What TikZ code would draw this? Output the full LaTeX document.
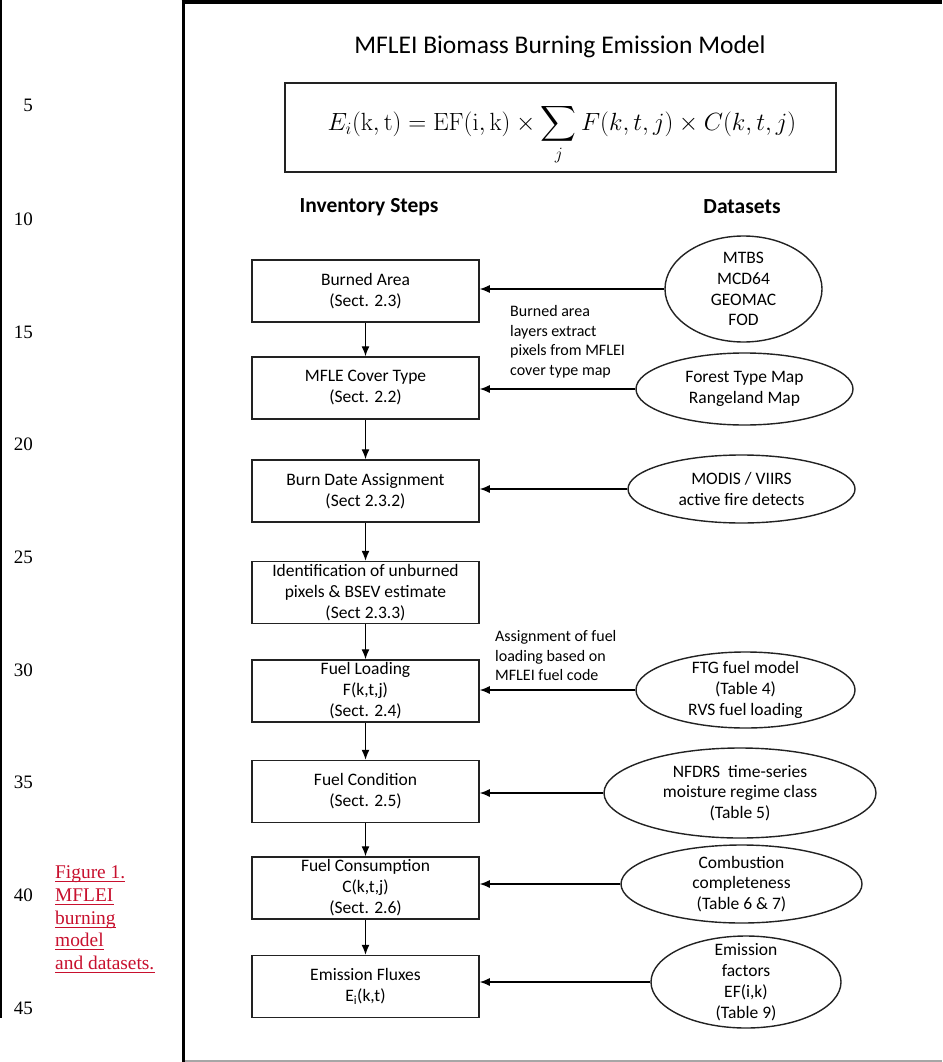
\documentclass[tikz,border=0pt]{standalone}
\usepackage{exscale}
\usepackage[no-math]{fontspec}
\setmainfont{Carlito}
\newfontfamily\tnr{Liberation Serif}
\usetikzlibrary{arrows.meta,shapes.geometric}
\definecolor{capred}{HTML}{C8102E}
\definecolor{boxline}{HTML}{222222}
\begin{document}
\begin{tikzpicture}[x=1pt,y=-1pt,
  stepbox/.style={draw=boxline,line width=1.5pt,minimum width=227pt,minimum height=62pt,inner sep=0pt,align=center,font=\fontsize{17.5}{21}\selectfont},
  dataell/.style={ellipse,draw=boxline,line width=1.4pt,inner sep=0pt},
  elltext/.style={align=center,inner sep=0pt,font=\fontsize{17.5}{20.8}\selectfont},
  arr/.style={-{Latex[length=10pt,width=8pt]},line width=1.3pt},
  lnum/.style={font=\tnr\fontsize{19}{22}\selectfont,anchor=base east,inner sep=0pt},
  capline/.style={font=\tnr\fontsize{19.4}{22.7}\selectfont,text=capred,anchor=base west,inner sep=0pt},
  note/.style={align=left,anchor=west,inner sep=0pt,font=\fontsize{16}{19.5}\selectfont},
  head/.style={inner sep=0pt,font=\bfseries\fontsize{21.5}{26}\selectfont}]
\useasboundingbox (0,0) rectangle (942,1062);
\fill[white] (0,0) rectangle (942,1062);

% page frame lines
\draw[line width=1.5pt] (1,0) -- (1,1018);
\draw[line width=3pt] (183,0) -- (183,1062);
\draw[line width=4pt] (181.5,2) -- (942,2);
\draw[black!35,line width=2pt] (184.5,1061) -- (942,1061);

% line numbers
\foreach \n/\yy in {5/112,10/225,15/338,20/450,25/563,30/676,35/788,40/901,45/1014}
  \node[lnum] (ln\n) at (33,\yy) {\n};

% caption
\node[capline] (cap1) at (55,878) {Figure 1.};
\node[capline] (cap2) at (55,901) {MFLEI};
\node[capline] (cap3) at (55,924) {burning};
\node[capline] (cap4) at (55,946) {model};
\node[capline] (cap5) at (55,969) {and datasets.};
\foreach \c in {cap1,cap2,cap3,cap4,cap5}
  \draw[capred,line width=1pt] ([yshift=-3pt]\c.base west) -- ([yshift=-3pt]\c.base east);

% title and equation
\node[inner sep=0pt,font=\fontsize{25.5}{30}\selectfont] (title) at (560,47) {MFLEI Biomass Burning Emission Model};
\node[draw=boxline,line width=1.5pt,minimum width=551pt,minimum height=89pt,inner sep=0pt] (eqbox) at (560.5,127.5) {};
\node[inner sep=0pt,font=\fontsize{23}{28}\selectfont] (eq) at (562,135) {$\displaystyle E_i(\mathrm{k,t}) = \mathrm{EF(i,k)}\times\sum_j F(k,t,j)\times C(k,t,j)$};

% headers
\node[head] (hsteps) at (369,207) {Inventory Steps};
\node[head] (hdata) at (742,207) {Datasets};

% step boxes
\node[stepbox] (b1) at (365.5,291) {Burned Area\\(Sect. 2.3)};
\node[stepbox] (b2) at (365.5,388) {MFLE Cover Type\\(Sect. 2.2)};
\node[stepbox] (b3) at (365.5,491) {Burn Date Assignment\\(Sect 2.3.2)};
\node[stepbox] (b4) at (365.5,592.5) {Identification of unburned\\pixels \& BSEV estimate\\(Sect 2.3.3)};
\node[stepbox] (b5) at (365.5,691) {Fuel Loading\\F(k,t,j)\\(Sect. 2.4)};
\node[stepbox] (b6) at (365.5,791.5) {Fuel Condition\\(Sect. 2.5)};
\node[stepbox] (b7) at (365.5,888) {Fuel Consumption\\C(k,t,j)\\(Sect. 2.6)};
\node[stepbox] (b8) at (365.5,986.5) {Emission Fluxes\\E\textsubscript{i}(k,t)};

\foreach \a/\b in {b1/b2,b2/b3,b3/b4,b4/b5,b5/b6,b6/b7,b7/b8}
  \draw[arr] (\a) -- (\b);

% dataset ellipses
\node[dataell,minimum width=157pt,minimum height=106pt] (e1) at (743.5,289) {};
\node[elltext] (e1t) at (e1) {MTBS\\MCD64\\GEOMAC\\FOD};
\node[dataell,minimum width=217pt,minimum height=72pt] (e2) at (744.5,389) {};
\node[elltext] (e2t) at (e2) {Forest Type Map\\Rangeland Map};
\node[dataell,minimum width=227pt,minimum height=68pt] (e3) at (741.5,489) {};
\node[elltext] (e3t) at (e3) {MODIS / VIIRS\\active fire detects};
\node[dataell,minimum width=219pt,minimum height=76pt] (e5) at (745.5,690) {};
\node[elltext] (e5t) at (e5) {FTG fuel model\\(Table 4)\\RVS fuel loading};
\node[dataell,minimum width=272pt,minimum height=90pt] (e6) at (740,793) {};
\node[elltext] (e6t) at (e6) {NFDRS~ time-series\\moisture regime class\\(Table 5)};
\node[dataell,minimum width=241pt,minimum height=78pt] (e7) at (741.5,884) {};
\node[elltext] (e7t) at (e7) {Combustion\\completeness\\(Table 6 \& 7)};
\node[dataell,minimum width=190pt,minimum height=92pt] (e8) at (746,982) {};
\node[elltext] (e8t) at (e8) {Emission\\factors\\EF(i,k)\\(Table 9)};

\foreach \e/\b in {e1/b1,e2/b2,e3/b3,e5/b5,e6/b6,e7/b7,e8/b8}
  \draw[arr] (\e.west) -- (\e.west -| \b.east);

% notes
\node[note] (n1) at (510,341.5) {Burned area\\layers extract\\pixels from MFLEI\\cover type map};
\node[note] (n2) at (495,655.5) {Assignment of fuel\\loading based on\\MFLEI fuel code};
\end{tikzpicture}
\end{document}
